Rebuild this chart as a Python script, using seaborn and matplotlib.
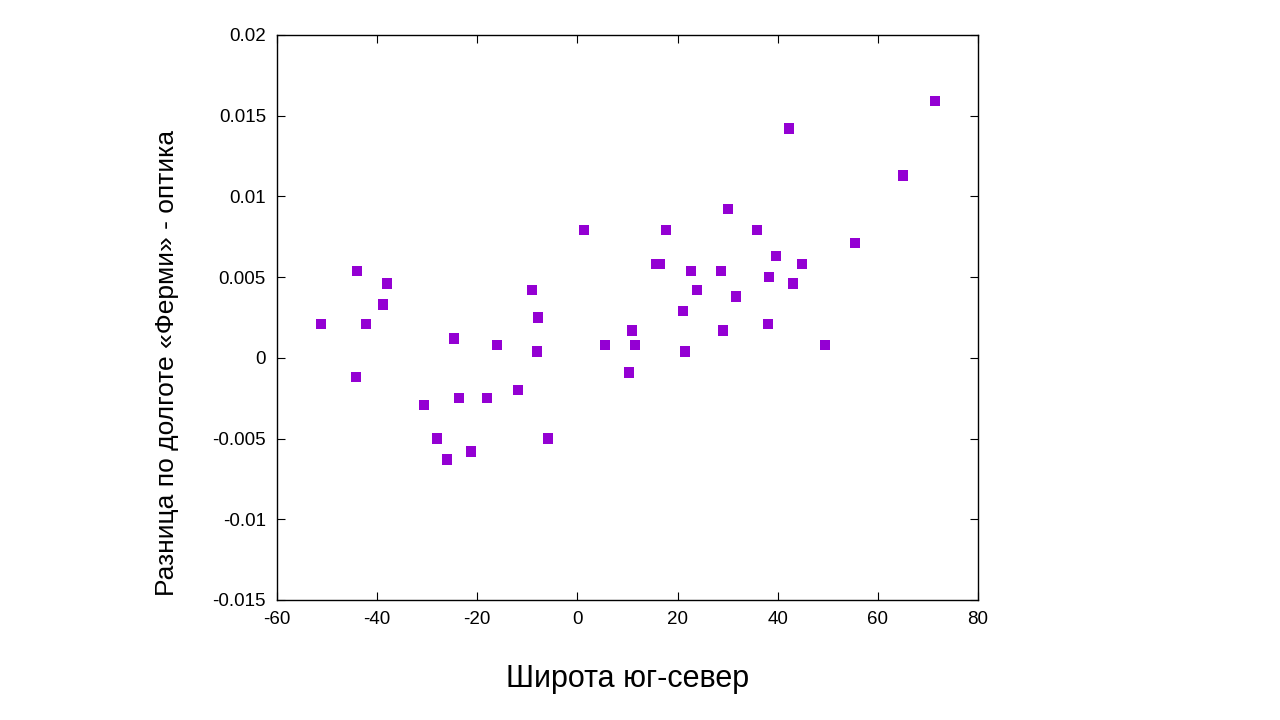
import matplotlib
matplotlib.use("Agg")
import matplotlib.pyplot as plt
import seaborn as sns
import pandas as pd

# широта и разница по долготе
lat = [-51.2, -44.0, -44.2, -42.2, -38.8, -38.0, -30.6, -28.0, -26.0, -24.6,
       -23.6, -21.3, -18.1, -16.1, -11.9, -9.1, -7.9, -8.1, -5.9, 1.3,
       5.5, 10.3, 10.9, 11.5, 15.7, 16.5, 17.7, 21.1, 21.5, 22.7,
       23.9, 28.7, 29.1, 30.1, 31.7, 35.9, 38.1, 38.3, 39.7, 42.3,
       43.1, 44.9, 49.4, 55.4, 65.0, 71.4]
diff = [0.0021, 0.0054, -0.0012, 0.0021, 0.0033, 0.0046, -0.0029, -0.0050, -0.0063, 0.0012,
        -0.0025, -0.0058, -0.0025, 0.0008, -0.0020, 0.0042, 0.0025, 0.0004, -0.0050, 0.0079,
        0.0008, -0.0009, 0.0017, 0.0008, 0.0058, 0.0058, 0.0079, 0.0029, 0.0004, 0.0054,
        0.0042, 0.0054, 0.0017, 0.0092, 0.0038, 0.0079, 0.0021, 0.0050, 0.0063, 0.0142,
        0.0046, 0.0058, 0.0008, 0.0071, 0.0113, 0.0159]
xticks = [-60, -40, -20, 0, 20, 40, 60, 80]
yticks = [-0.015, -0.01, -0.005, 0, 0.005, 0.01, 0.015, 0.02]
ytick_labels = ["-0.015", "-0.01", "-0.005", "0", "0.005", "0.01", "0.015", "0.02"]

df = pd.DataFrame({"lat": lat, "diff": diff})

plt.rcParams["font.family"] = "Liberation Sans"
fig = plt.figure(figsize=(12.8, 7.2), dpi=100)
ax = fig.add_axes([0.2164, 0.1667, 0.5477, 0.7847])
sns.scatterplot(data=df, x="lat", y="diff", marker="s", s=55, color="#9400D3",
                edgecolor="none", ax=ax)
ax.set_xlim(-60, 80)
ax.set_ylim(-0.015, 0.02)
ax.set_xticks(xticks)
ax.set_xticklabels([str(t) for t in xticks])
ax.set_yticks(yticks)
ax.set_yticklabels(ytick_labels)
ax.tick_params(direction="in", top=True, right=True, labelsize=13.5, length=6, pad=8)
for s in ax.spines.values():
    s.set_linewidth(1.0)
ax.set_xlabel("Широта юг-север", fontsize=22, labelpad=26)
ax.set_ylabel("Разница по долготе «Ферми» - оптика", fontsize=19, labelpad=12)
ax.yaxis.set_label_coords(-0.14, 0.42)

fig.savefig("out.png", dpi=100)
